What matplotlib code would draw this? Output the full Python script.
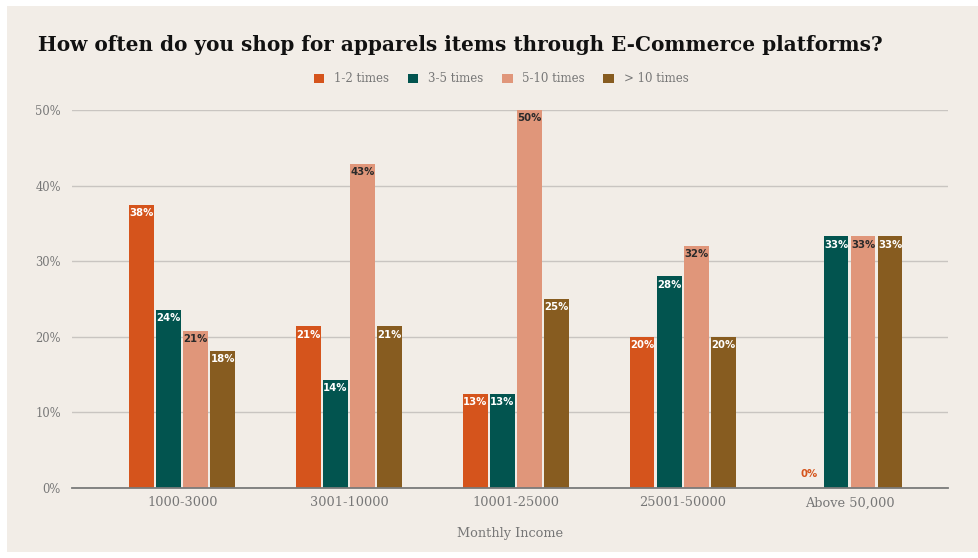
import matplotlib
matplotlib.use('Agg')
import matplotlib.pyplot as plt
import numpy as np
from matplotlib.patches import Rectangle

# survey shares, in percent
incomes = ['1000-3000', '3001-10000', '10001-25000', '25001-50000', 'Above 50,000']
series = ['1-2 times', '3-5 times', '5-10 times', '> 10 times']
once_twice = [37.5, 21.4, 12.5, 20.0, 0.0]
three_five = [23.6, 14.3, 12.5, 28.0, 33.3]
five_ten = [20.8, 42.9, 50.0, 32.0, 33.3]
over_ten = [18.1, 21.4, 25.0, 20.0, 33.3]

colors = ['#d5541c', '#02544f', '#e0967a', '#875c20']
label_colors = ['white', 'white', '#2a2a2a', 'white']
bg = '#f2ede7'

fig = plt.figure(figsize=(9.79, 5.58), dpi=100)
fig.patch.set_facecolor('white')
fig.patches.append(Rectangle((7 / 979, 6 / 558), 971 / 979, 546 / 558,
                             transform=fig.transFigure, facecolor=bg,
                             edgecolor='none', zorder=-1))

ax = fig.add_axes([72 / 979, 1 - 488 / 558, 876 / 979, 378 / 558])
ax.set_facecolor(bg)

x = np.arange(len(incomes))
width = 0.148
step = 0.162
for i, vals in enumerate([once_twice, three_five, five_ten, over_ten]):
    pos = x + (i - 1.5) * step
    ax.bar(pos, vals, width, color=colors[i], label=series[i], zorder=3)
    for px, v in zip(pos, vals):
        txt = '%d%%' % int(v + 0.5)
        if v == 0:
            ax.annotate(txt, (px, 0), xytext=(0, 10), textcoords='offset points',
                        ha='center', va='center', fontsize=7.3, fontweight='bold',
                        color=colors[i], zorder=4)
        else:
            ax.annotate(txt, (px, v), xytext=(0, -6), textcoords='offset points',
                        ha='center', va='center', fontsize=7.3, fontweight='bold',
                        color=label_colors[i], zorder=4)

ax.set_xlim(-0.66, 4.59)
ax.set_ylim(0, 50)
ax.set_yticks(range(0, 51, 10))
ax.set_yticklabels(['%d%%' % t for t in range(0, 51, 10)])
ax.set_xticks(x)
ax.set_xticklabels(incomes)
ax.grid(axis='y', color='#c9c5c1', linewidth=1, zorder=0)
for s in ['top', 'right', 'left']:
    ax.spines[s].set_visible(False)
ax.spines['bottom'].set_color('#7a7a7a')
ax.spines['bottom'].set_linewidth(1.3)
ax.spines['bottom'].set_zorder(5)
ax.tick_params(axis='y', length=0, labelcolor='#777777', labelsize=8.3, pad=8)
ax.tick_params(axis='x', length=0, labelcolor='#777777', labelsize=9.3, pad=6)
for lbl in ax.get_xticklabels() + ax.get_yticklabels():
    lbl.set_family('DejaVu Serif')

ax.set_xlabel('Monthly Income', fontsize=9.3, color='#777777', family='DejaVu Serif',
              labelpad=13)

fig.text(38 / 979, 1 - 45 / 558, 'How often do you shop for apparels items through E-Commerce platforms?',
         fontsize=14.4, fontweight='bold', family='DejaVu Serif', color='#111111',
         va='center', ha='left')

leg = fig.legend(loc='center', bbox_to_anchor=(501 / 979, 1 - 79 / 558), ncol=4,
                 frameon=False, handlelength=0.9, handleheight=0.9, columnspacing=1.6,
                 handletextpad=0.8, prop={'family': 'DejaVu Serif', 'size': 8.5})
for t in leg.get_texts():
    t.set_color('#777777')

fig.savefig('out.png', dpi=100, facecolor=fig.get_facecolor())
